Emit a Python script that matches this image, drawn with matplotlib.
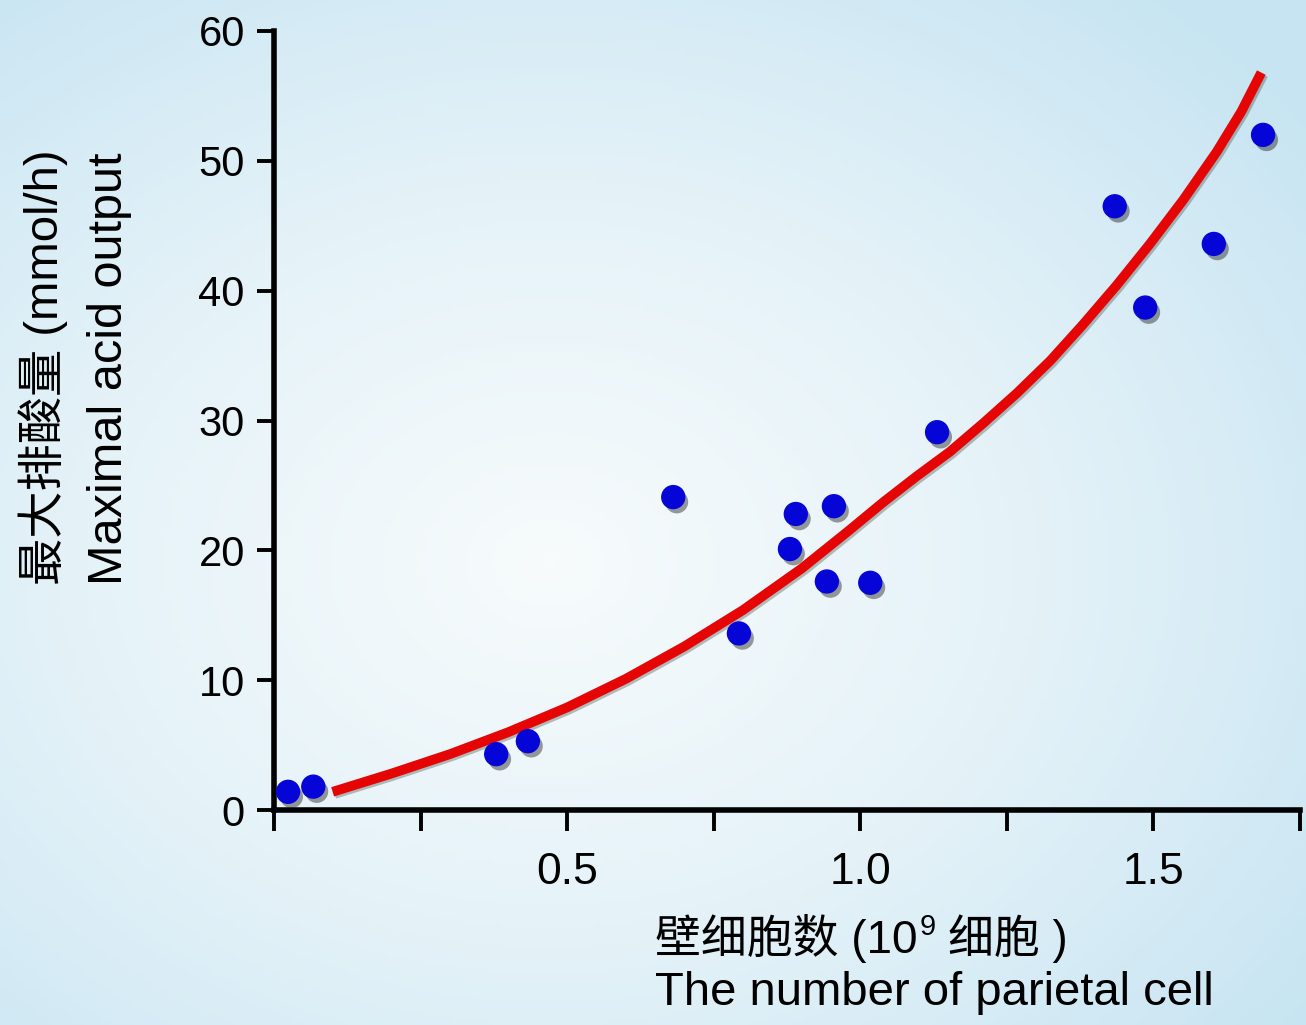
import numpy as np
import matplotlib
matplotlib.use('Agg')
import matplotlib.pyplot as plt
import matplotlib.patheffects as pe
from matplotlib.colors import LinearSegmentedColormap

plt.rcParams['font.family'] = ['Liberation Sans', 'Noto Sans CJK SC', 'DejaVu Sans']

# parietal cell count (10^9) vs maximal acid output (mmol/h)
cells = [0.024, 0.067, 0.379, 0.433, 0.681, 0.793, 0.880, 0.890, 0.955,
         0.943, 1.017, 1.131, 1.434, 1.486, 1.603, 1.687]
acid = [1.4, 1.8, 4.3, 5.3, 24.1, 13.6, 20.1, 22.8, 23.4,
        17.6, 17.5, 29.1, 46.5, 38.7, 43.6, 52.0]

# fitted curve, points
fit_x = [0.10, 0.20, 0.30, 0.40, 0.50, 0.60, 0.70, 0.80, 0.90, 0.98,
         1.039, 1.096, 1.153, 1.210, 1.267, 1.324, 1.380, 1.437, 1.494,
         1.551, 1.608, 1.650, 1.684]
fit_y = [1.4, 2.8, 4.3, 6.0, 7.9, 10.1, 12.6, 15.4, 18.6, 21.5,
         23.7, 25.7, 27.6, 29.8, 32.1, 34.6, 37.4, 40.4, 43.6,
         47.0, 50.7, 53.8, 56.8]

x_ticks = [0, 0.25, 0.5, 0.75, 1.0, 1.25, 1.5, 1.75]
x_labels = ['', '', '0.5', '', '1.0', '', '1.5', '']
y_ticks = [0, 10, 20, 30, 40, 50, 60]

W, H = 1306, 1025
fig = plt.figure(figsize=(W / 100, H / 100), dpi=100)

# light blue background, whiter towards the middle
bg = fig.add_axes([0, 0, 1, 1], zorder=-10)
gx, gy = np.meshgrid(np.linspace(0, 1, 300), np.linspace(0, 1, 240))
r = np.sqrt(((gx - 0.42) / 0.75) ** 2 + ((gy - 0.55) / 0.75) ** 2)
cmap = LinearSegmentedColormap.from_list('bgc', ['#f7fbfc', '#e4f2f8', '#c6e4f2'])
bg.imshow(np.clip(r, 0, 1), cmap=cmap, aspect='auto', extent=[0, 1, 0, 1], origin='upper')
bg.axis('off')

ax = fig.add_axes([274 / W, 1 - 810 / H, (1300 - 274) / W, (810 - 31) / H])
ax.patch.set_alpha(0)

ax.plot(fit_x, fit_y, color='#e60505', lw=7, solid_capstyle='butt', solid_joinstyle='round',
        zorder=2,
        path_effects=[pe.SimpleLineShadow(offset=(1.5, -1.5), shadow_color='#3a4a40', alpha=0.35),
                      pe.Normal()])
ax.plot(cells, acid, 'o', ms=16.5, color='#0505d8', mec='#0505d8', zorder=3, clip_on=False,
        path_effects=[pe.SimplePatchShadow(offset=(2.5, -3.5), shadow_rgbFace='#222222', alpha=0.45),
                      pe.Normal()])

ax.set_xlim(0, 1.75)
ax.set_ylim(0, 60)
ax.spines['top'].set_visible(False)
ax.spines['right'].set_visible(False)
for s in ['left', 'bottom']:
    ax.spines[s].set_linewidth(4)
    ax.spines[s].set_zorder(1)

ax.set_xticks(x_ticks, x_labels)
ax.set_yticks(y_ticks)
ax.tick_params(axis='x', direction='out', length=15, width=2.8, pad=15, labelsize=32)
ax.tick_params(axis='y', direction='out', length=12, width=2.8, pad=9, labelsize=30)

# y label: two rotated lines, starting at the same height
fig.text(43 / W, 1 - 585 / H, '最大排酸量 (mmol/h)', rotation=90, ha='center', va='bottom',
         fontsize=34)
fig.text(110 / W, 1 - 585 / H, 'Maximal acid output', rotation=90, ha='center', va='bottom',
         fontsize=35)

# x label: first line with superscript 9 built from pieces
renderer = fig.canvas.get_renderer()
t1 = fig.text(655 / W, 1 - 953 / H, '壁细胞数 (10', fontsize=33, va='baseline')
bb = t1.get_window_extent(renderer)
t2 = fig.text((bb.x1 + 2) / W, 1 - 935 / H, '9', fontsize=21, va='baseline')
bb2 = t2.get_window_extent(renderer)
fig.text((bb2.x1 + 12) / W, 1 - 953 / H, '细胞 )', fontsize=33, va='baseline')
fig.text(655 / W, 1 - 1005 / H, 'The number of parietal cell', fontsize=34, va='baseline')

fig.savefig('out.png', dpi=100)
